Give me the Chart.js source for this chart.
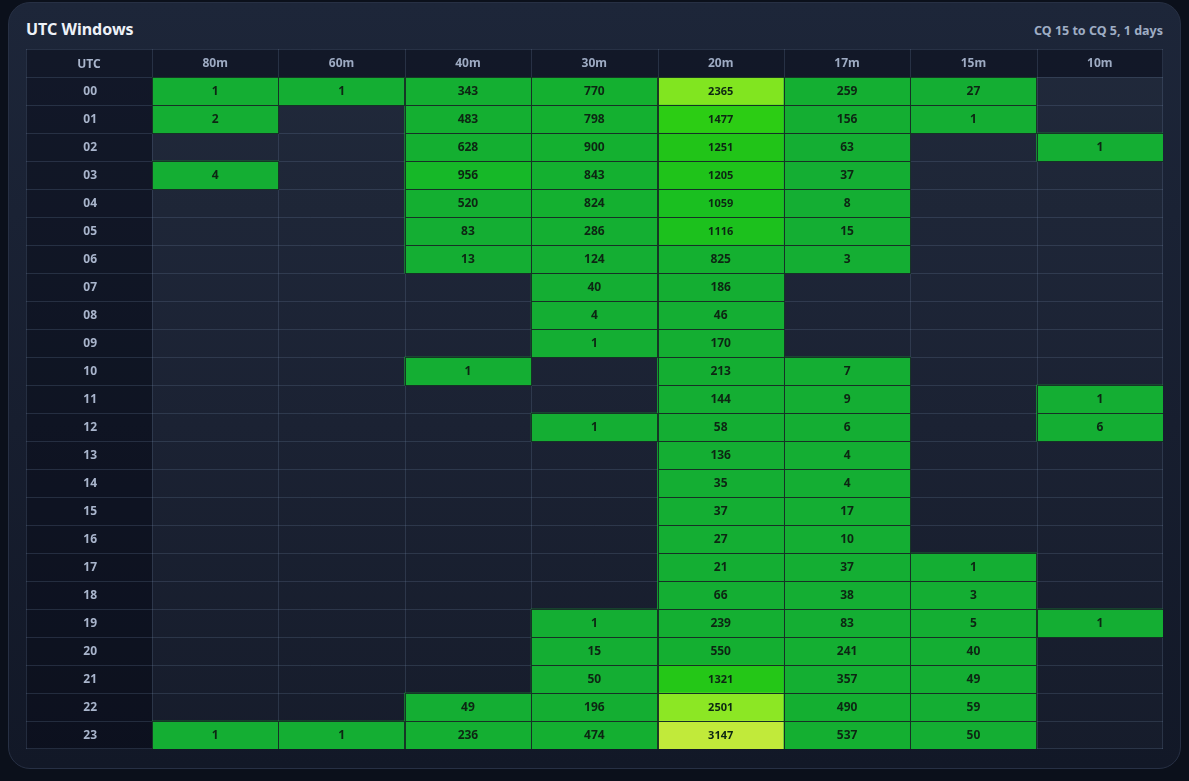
<!DOCTYPE html>
<html><head><meta charset="utf-8">
<script src="https://cdn.jsdelivr.net/npm/chart.js@4"></script>
<style>
html,body{margin:0;padding:0;width:1189px;height:781px;background:#0b101b;overflow:hidden;font-family:"Noto Sans",sans-serif;}
#card{position:absolute;left:8px;top:2px;width:1171px;height:765px;border:1px solid #273044;border-radius:22px;background:linear-gradient(180deg,#1d2639 0%,#171e2f 55%,#121827 100%);}
#title{position:absolute;left:26px;top:18px;font-size:16px;font-weight:700;color:#eef2f8;line-height:22px;}
#sub{position:absolute;right:26px;top:22px;font-size:12.5px;font-weight:700;color:#9fadc4;line-height:18px;}
#wrap{position:absolute;left:26px;top:49px;width:1137px;height:700px;}
#utc{position:absolute;left:26px;top:50px;width:126px;height:28px;line-height:28px;text-align:center;font-size:12px;font-weight:700;color:#a9b5cc;}
</style></head>
<body>
<div id="card"></div>
<div id="title">UTC Windows</div>
<div id="sub">CQ 15 to CQ 5, 1 days</div>
<div id="wrap"><canvas id="c"></canvas></div>
<div id="utc">UTC</div>
<script>
const bands = ['80m','60m','40m','30m','20m','17m','15m','10m'];
const hours = ['00','01','02','03','04','05','06','07','08','09','10','11','12','13','14','15','16','17','18','19','20','21','22','23'];
//              00    01    02    03    04    05    06    07    08    09    10    11    12    13    14    15    16    17    18    19    20    21    22    23
const b80m = [   1,    2, null,    4, null, null, null, null, null, null, null, null, null, null, null, null, null, null, null, null, null, null, null,    1];
const b60m = [   1, null, null, null, null, null, null, null, null, null, null, null, null, null, null, null, null, null, null, null, null, null, null,    1];
const b40m = [ 343,  483,  628,  956,  520,   83,   13, null, null, null,    1, null, null, null, null, null, null, null, null, null, null, null,   49,  236];
const b30m = [ 770,  798,  900,  843,  824,  286,  124,   40,    4,    1, null, null,    1, null, null, null, null, null, null,    1,   15,   50,  196,  474];
const b20m = [2365, 1477, 1251, 1205, 1059, 1116,  825,  186,   46,  170,  213,  144,   58,  136,   35,   37,   27,   21,   66,  239,  550, 1321, 2501, 3147];
const b17m = [ 259,  156,   63,   37,    8,   15,    3, null, null, null,    7,    9,    6,    4,    4,   17,   10,   37,   38,   83,  241,  357,  490,  537];
const b15m = [  27,    1, null, null, null, null, null, null, null, null, null, null, null, null, null, null, null,    1,    3,    5,   40,   49,   59,   50];
const b10m = [null, null,    1, null, null, null, null, null, null, null, null,    1,    6, null, null, null, null, null, null,    1, null, null, null, null];
const columns = [b80m, b60m, b40m, b30m, b20m, b17m, b15m, b10m];

const points = [];
columns.forEach((col, c) => col.forEach((v, h) => {
  if (v !== null) points.push({y: hours[h], x: [c, c + 1], v: v});
}));

const stops = [[0,[20,174,51]],[900,[20,176,48]],[1000,[24,190,34]],[1250,[33,196,24]],[1500,[45,206,20]],[2400,[132,230,33]],[3150,[193,234,58]]];
function colorFor(v){
  if (v <= stops[0][0]) return 'rgb(' + stops[0][1].join(',') + ')';
  for (let i = 1; i < stops.length; i++) {
    if (v <= stops[i][0]) {
      const a = stops[i-1], b = stops[i];
      const t = (v - a[0]) / (b[0] - a[0]);
      const c = a[1].map((q, k) => Math.round(q + (b[1][k] - q) * t));
      return 'rgb(' + c.join(',') + ')';
    }
  }
  return 'rgb(' + stops[stops.length-1][1].join(',') + ')';
}

const FONT = '"Noto Sans", sans-serif';

const frame = {
  id: 'frame',
  beforeDraw(chart){
    const {ctx, chartArea: a, scales} = chart;
    const y = scales.y, x = scales.x, x2 = scales.x2;
    const L = y.left, T = x2.top;
    ctx.save();
    ctx.fillStyle = 'rgba(4,8,20,0.42)';
    ctx.fillRect(L, T, a.right - L, a.top - T);
    ctx.fillRect(L, a.top, a.left - L, a.bottom - a.top);
    ctx.fillStyle = 'rgba(255,255,255,0.018)';
    ctx.fillRect(a.left, a.top, a.right - a.left, a.bottom - a.top);
    ctx.strokeStyle = 'rgba(120,140,175,0.22)';
    ctx.lineWidth = 1;
    ctx.beginPath();
    const rh = y.getPixelForValue(1) - y.getPixelForValue(0);
    const hl = (yy) => { const p = Math.round(yy) + 0.5; ctx.moveTo(L, p); ctx.lineTo(a.right, p); };
    hl(T);
    for (let i = 0; i < hours.length; i++) hl(y.getPixelForValue(i) - rh / 2);
    hl(a.bottom - 1);
    const vl = (xx) => { const p = Math.round(xx) + 0.5; ctx.moveTo(p, T); ctx.lineTo(p, a.bottom); };
    vl(L);
    for (let c = 0; c <= bands.length; c++) vl(c === bands.length ? x.getPixelForValue(c) - 1 : x.getPixelForValue(c));
    ctx.stroke();
    ctx.restore();
  }
};

const cellText = {
  id: 'cellText',
  afterDatasetsDraw(chart){
    const {ctx} = chart;
    const meta = chart.getDatasetMeta(0);
    const ds = chart.data.datasets[0].data;
    ctx.save();
    meta.data.forEach((el, i) => {
      const p = el.getProps(['x','y','base','height'], true);
      const x0 = Math.min(p.x, p.base), x1 = Math.max(p.x, p.base);
      const y0 = p.y - p.height / 2, y1 = p.y + p.height / 2;
      ctx.strokeStyle = 'rgba(22,48,38,0.95)';
      ctx.lineWidth = 1;
      ctx.strokeRect(Math.round(x0) + 0.5, Math.round(y0) + 0.5, Math.round(x1 - x0), Math.round(y1 - y0));
      const v = ds[i].v;
      ctx.fillStyle = '#0d2613';
      ctx.font = 'bold ' + (v >= 1000 ? 11 : 12) + 'px ' + FONT;
      ctx.textAlign = 'center';
      ctx.textBaseline = 'middle';
      ctx.fillText(String(v), (x0 + x1) / 2, p.y + 1);
    });
    ctx.restore();
  }
};

new Chart(document.getElementById('c'), {
  type: 'bar',
  data: {
    labels: hours,
    datasets: [{
      data: points,
      xAxisID: 'x', yAxisID: 'y',
      backgroundColor: (c) => colorFor(c.raw ? c.raw.v : 0),
      borderWidth: 0,
      borderSkipped: false,
      barPercentage: 1,
      categoryPercentage: 1
    }]
  },
  options: {
    indexAxis: 'y',
    responsive: true,
    maintainAspectRatio: false,
    animation: false,
    layout: {padding: 0},
    plugins: {legend: {display: false}, tooltip: {enabled: false}},
    scales: {
      x: {type: 'linear', min: 0, max: 8, display: false},
      x2: {
        type: 'category', labels: bands, position: 'top', offset: true,
        grid: {display: false, drawTicks: false}, border: {display: false},
        ticks: {color: '#9eabc3', font: {family: FONT, size: 12, weight: 'bold'}, padding: 6, maxRotation: 0, autoSkip: false},
        afterFit: (s) => { s.height = 28; s.paddingLeft = 0; s.paddingRight = 0; }
      },
      y: {
        type: 'category', labels: hours, offset: true,
        grid: {display: false, drawTicks: false}, border: {display: false},
        ticks: {color: '#a9b5cc', font: {family: FONT, size: 12, weight: 'bold'}, crossAlign: 'center', padding: 55, labelOffset: 1, autoSkip: false},
        afterFit: (s) => { s.width = 126; s.paddingTop = 0; s.paddingBottom = 0; }
      }
    }
  },
  plugins: [frame, cellText]
});
</script>
</body></html>
